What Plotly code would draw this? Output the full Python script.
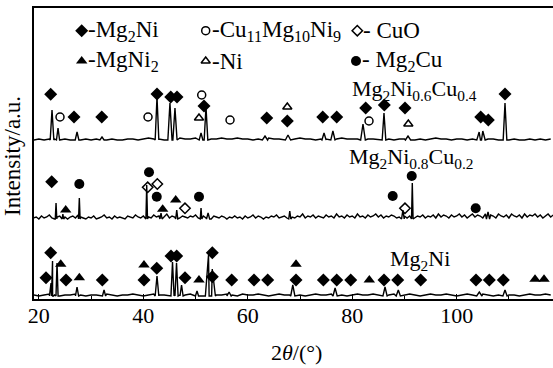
import plotly.graph_objects as go

# ---------------- data (2theta in degrees, intensity in arbitrary units) ----------------
grid_top = list(range(19, 119))            # 1 deg grid
top_base = 159
top_bl = [0,1,0,1,1,0,1,0,1,0, 1,0,1,1,0,1,0,0,1,1, 0,1,2,1,1,0,1,1,2,1, 1,2,1,2,1,1,2,1,1,2,
          1,1,0,1,1,2,1,1,0,1, 1,2,1,1,0,1,1,0,1,2, 1,1,1,0,1,1,0,1,1,0, 1,1,1,0,1,0,1,2,1,1,
          0,1,1,0,1,0,0,1,1,0, 1,0,1,0,0,1,0,1,0,1]
top_peak_pos = [22.52, 23.67, 27.31, 32.09, 42.62, 45.1, 46.06, 51.05, 52.0, 63.3,
                67.7, 74.6, 76.3, 82.06, 86.08, 90.68, 104.3, 105.0, 109.25]
top_peak_int = [189, 171, 167, 162, 202, 196, 191, 166, 192, 163,
                164, 166, 168, 175, 186, 163, 167, 168, 196]
top_peak_hw = [.35, .3, .35, .4, .35, .4, .4, .35, .35, .5,
               .5, .4, .4, .45, .35, .5, .45, .45, .35]

grid_mid = [19 + 0.5 * i for i in range(200)]   # 0.5 deg grid
mid_base = 80
mid_bl = [1,2,0,3,1,2,4,1,0,2, 3,1,2,0,2,3,1,4,2,1,
          0,2,1,3,0,1,2,4,1,2, 0,3,1,2,1,0,3,2,1,4,
          2,1,3,0,2,1,4,2,3,1, 2,5,1,3,2,4,1,3,2,1,
          3,2,4,1,2,3,1,2,0,3, 2,1,3,2,0,2,1,3,1,2,
          0,3,1,2,4,1,3,2,0,2, 1,3,2,4,1,2,3,1,4,2,
          1,3,2,5,1,3,2,4,1,3, 2,1,4,2,3,1,5,2,3,1,
          4,2,3,1,5,2,3,1,4,2, 3,5,2,4,1,3,2,4,3,1,
          2,4,3,1,3,2,1,3,2,4, 1,3,2,4,1,5,2,4,3,1,
          4,2,3,5,2,4,1,3,5,2, 4,3,1,5,2,4,3,1,5,3,
          2,4,1,5,3,2,4,1,5,2, 4,3,5,2,4,1,3,5,2,4]
mid_peak_pos = [23.29, 24.6, 27.75, 40.65, 43.39, 46.4, 51.05, 52.4, 68.04, 89.7, 91.5, 106.0]
mid_peak_int = [96, 85, 101, 114, 86, 89, 91, 86, 88, 89, 116, 87]
mid_peak_hw = [.15, .15, .15, .15, .2, .2, .15, .3, .2, .25, .15, .3]

grid_bot = list(range(19, 119))
bot_base = 3
bot_bl = [1,0,1,2,1,0,1,1,2,1, 0,1,1,0,2,1,0,1,1,2, 1,0,1,2,1,1,0,2,1,1, 2,1,0,1,2,1,1,2,1,0,
          2,1,1,2,1,0,1,2,1,1, 2,1,0,1,2,1,1,2,1,1, 0,1,2,1,1,2,1,0,1,2, 1,1,2,1,0,1,2,1,1,2,
          1,0,1,2,1,1,2,1,0,1, 2,1,1,0,1,2,1,1,2,1]
bot_peak_pos = [22.33, 22.62, 23.48, 27.31, 32.48, 42.62, 45.59, 46.36, 47.32, 50.28,
                52.48, 53.2, 56.42, 68.62, 76.72, 86.28, 88.82, 104.33, 109.25]
bot_peak_int = [16, 38, 36, 12, 9, 23, 37, 36, 14, 8,
                44, 30, 7, 14, 11, 12, 9, 7, 9]
bot_peak_hw = [.3, .2, .2, .3, .3, .35, .3, .3, .3, .3,
               .6, .6, .4, .4, .4, .4, .4, .5, .4]

# phase markers
mg2ni_x = [22.27, 26.73, 32.04, 42.62, 45.25, 46.45, 51.62, 63.63, 67.57, 74.35, 77.03, 82.58,
           86.14, 90.1, 104.6, 106.05, 109.25,
           22.46,
           22.27, 21.37, 25.2, 32.15, 40.13, 42.57, 45.3, 46.39, 47.98, 53.21, 53.21, 56.92,
           61.19, 63.81, 69.24, 74.47, 77.03, 79.71, 86.08, 88.71, 93.11, 103.7, 106.25, 108.93]
mg2ni_y = [204.7, 182, 182, 205, 202, 202, 193, 181, 178, 182, 182, 191,
           194, 191, 182, 179, 205,
           117.3,
           46.3, 21.3, 19, 19, 19, 30.7, 43, 43, 21.3, 46.3, 22.3, 19,
           19, 19, 19, 19, 19, 19, 19, 19, 19, 19, 19, 19]
cu11_x = [24.05, 40.9, 51.18, 56.6, 83.21]
cu11_y = [182, 182, 204, 179, 178]
cuo_x = [40.84, 42.68, 47.98, 90.1]
cuo_y = [111.7, 115, 90.7, 90.7]
mgni2_x = [25.14, 43.71, 46.2, 24.19, 27.75, 40.13, 50.66, 69.24, 83.27, 115.0, 116.72]
mgni2_y = [89, 89.7, 99, 34.7, 21.3, 34, 19, 34.7, 19, 19.7, 19.7]
ni_x = [50.66, 67.57, 90.74]
ni_y = [181, 192, 175]
mg2cu_x = [27.75, 41.09, 42.57, 50.66, 87.75, 91.39, 103.64]
mg2cu_y = [115, 126.7, 102.3, 102.3, 103, 123, 90.7]

x_ticks = [20, 40, 60, 80, 100]
sample_names = ["Mg<sub>2</sub>Ni<sub>0.6</sub>Cu<sub>0.4</sub>",
                "Mg<sub>2</sub>Ni<sub>0.8</sub>Cu<sub>0.2</sub>",
                "Mg<sub>2</sub>Ni"]
legend_labels = ["-Mg<sub>2</sub>Ni", "-Cu<sub>11</sub>Mg<sub>10</sub>Ni<sub>9</sub>", "- CuO",
                 "-MgNi<sub>2</sub>", "-Ni", "- Mg<sub>2</sub>Cu"]


def build(grid, bl, base, pos, inten, hw):
    pts = []
    for gx, b in zip(grid, bl):
        if any(abs(gx - p) < w for p, w in zip(pos, hw)):
            continue
        pts.append((gx, base + b))
    for p, t, w in zip(pos, inten, hw):
        pts += [(p - w, base), (p, t), (p + w, base)]
    pts.sort()
    return [a for a, _ in pts], [b for _, b in pts]


FONT = "Liberation Serif, Times New Roman, serif"
TXT = 23
fig = go.Figure()
for g, bl, base, pp, pi, ph in [(grid_top, top_bl, top_base, top_peak_pos, top_peak_int, top_peak_hw),
                                (grid_mid, mid_bl, mid_base, mid_peak_pos, mid_peak_int, mid_peak_hw),
                                (grid_bot, bot_bl, bot_base, bot_peak_pos, bot_peak_int, bot_peak_hw)]:
    xs, ys = build(g, bl, base, pp, pi, ph)
    fig.add_trace(go.Scatter(x=xs, y=ys, mode="lines", line=dict(color="black", width=1.4),
                             showlegend=False, hoverinfo="skip"))

marker_sets = [
    (mg2ni_x, mg2ni_y, "diamond", 10, "black", 0),
    (cu11_x, cu11_y, "circle-open", 8, "black", 1.5),
    (cuo_x, cuo_y, "diamond-open", 8, "black", 1.5),
    (mgni2_x, mgni2_y, "triangle-up", 10, "black", 0),
    (ni_x, ni_y, "triangle-up-open", 8, "black", 1.5),
    (mg2cu_x, mg2cu_y, "circle", 10, "black", 0),
]
for mx, my, sym, sz, col, lw in marker_sets:
    fig.add_trace(go.Scatter(x=mx, y=my, mode="markers",
                             marker=dict(symbol=sym, size=sz, color=col, line=dict(width=lw, color=col)),
                             showlegend=False, hoverinfo="skip"))

# legend keys on an overlay pixel-like axis
leg_x = [81.7, 205.7, 357.3, 81.7, 205.7, 356]
leg_y = [30.7, 30.7, 30.7, 61, 61, 61]
for (mx, my, sym, sz, col, lw), lx, ly, lab in zip(marker_sets, leg_x, leg_y, legend_labels):
    fig.add_trace(go.Scatter(x=[lx], y=[ly], xaxis="x2", yaxis="y2", mode="markers",
                             marker=dict(symbol=sym, size=sz, color=col, line=dict(width=lw, color=col)),
                             showlegend=False, hoverinfo="skip"))
    fig.add_annotation(x=lx + 4, y=ly, xref="x2", yref="y2", text=lab, showarrow=False,
                       xanchor="left", yanchor="middle", font=dict(family=FONT, size=TXT, color="black"))

for name, nx, ny in zip(sample_names, [350, 347, 388], [90, 158, 260]):
    fig.add_annotation(x=nx, y=ny, xref="x2", yref="y2", text=name, showarrow=False,
                       xanchor="left", yanchor="middle", font=dict(family=FONT, size=22, color="black"))

# axis titles (paper coords; plot area spans x 34..553 px, y 8..299 px)
fig.add_annotation(x=(12 - 34) / 519, y=(299 - 156) / 291, xref="paper", yref="paper",
                   text="Intensity/a.u.", textangle=-90, showarrow=False,
                   xanchor="center", yanchor="middle", font=dict(family=FONT, size=23, color="black"))
fig.add_annotation(x=(296 - 34) / 519, y=(299 - 352) / 291, xref="paper", yref="paper",
                   text="2<i>θ</i>/(°)", showarrow=False,
                   xanchor="center", yanchor="middle", font=dict(family=FONT, size=22, color="black"))

fig.update_layout(
    width=553, height=368, margin=dict(l=34, r=0, t=8, b=69),
    paper_bgcolor="white", plot_bgcolor="white",
    xaxis=dict(range=[19.07, 118.44], tickvals=x_ticks, ticks="inside", ticklen=5, tickwidth=1.2,
               tickcolor="black", showline=True, linecolor="black", linewidth=1.6, mirror=True,
               showgrid=False, zeroline=False, ticklabelstandoff=-4,
               minor=dict(dtick=10, tick0=20, ticks="inside", ticklen=3, tickcolor="black", showgrid=False),
               tickfont=dict(family=FONT, size=22, color="black")),
    yaxis=dict(range=[0, 291], showline=True, linecolor="black", linewidth=1.6, showticklabels=False,
               ticks="", showgrid=False, zeroline=False),
    xaxis2=dict(range=[34, 553], overlaying="x", visible=False),
    yaxis2=dict(range=[299, 8], overlaying="y", visible=False),
)

fig.write_html("out.html")
